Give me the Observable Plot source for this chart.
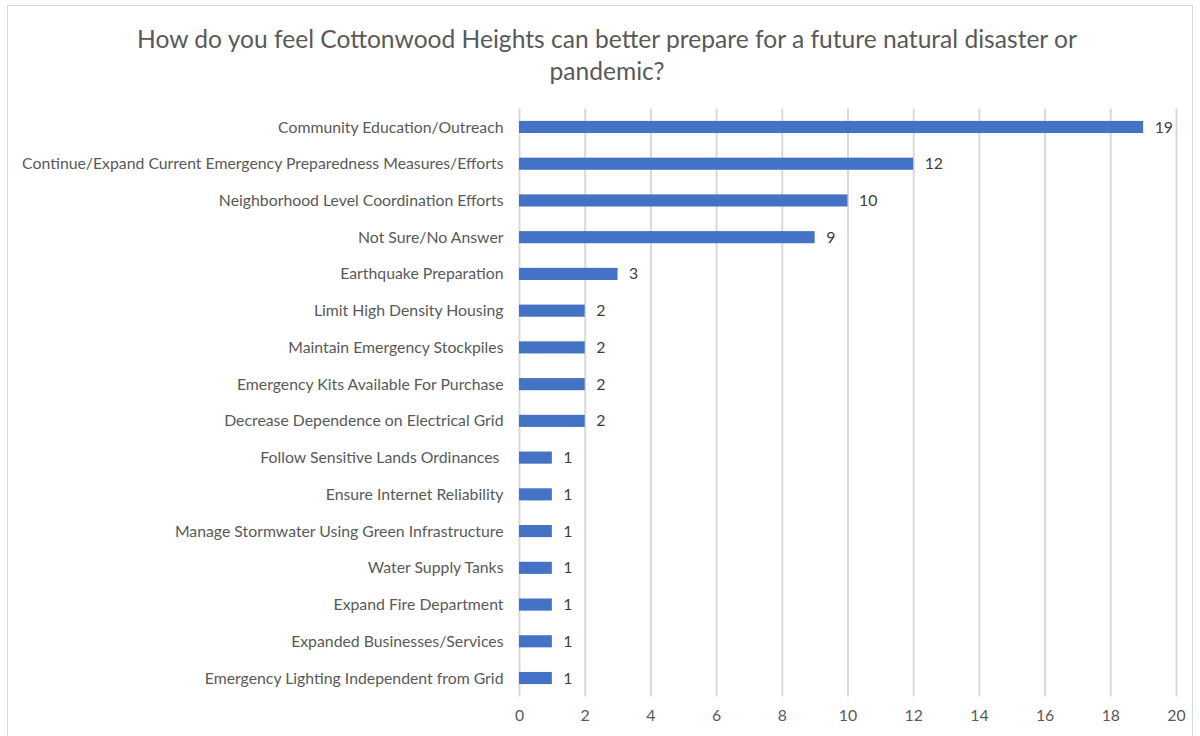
<!DOCTYPE html>
<html><head><meta charset="utf-8">
<script src="https://cdn.jsdelivr.net/npm/d3@7"></script>
<script src="https://cdn.jsdelivr.net/npm/@observablehq/plot@0.6"></script>
<style>
body{margin:0;background:#fff;font-family:Lato,"Open Sans",sans-serif;}
#wrap{position:relative;width:1200px;height:736px;overflow:hidden;}
#border{position:absolute;left:7px;top:5px;width:1186px;height:740px;border:1px solid #d9d9d9;box-sizing:border-box;}
#title{position:absolute;left:0;top:23px;width:1214px;text-align:center;font-size:24.6px;line-height:32px;color:#595959;}
#chart{position:absolute;left:0;top:0;}
</style></head>
<body><div id="wrap"><div id="border"></div>
<div id="title">How do you feel Cottonwood Heights can better prepare for a future natural disaster or<br>pandemic?</div>
<div id="chart"></div></div>
<script>
const categories = [
  "Community Education/Outreach",
  "Continue/Expand Current Emergency Preparedness Measures/Efforts",
  "Neighborhood Level Coordination Efforts",
  "Not Sure/No Answer",
  "Earthquake Preparation",
  "Limit High Density Housing",
  "Maintain Emergency Stockpiles",
  "Emergency Kits Available For Purchase",
  "Decrease Dependence on Electrical Grid",
  "Follow Sensitive Lands Ordinances ",
  "Ensure Internet Reliability",
  "Manage Stormwater Using Green Infrastructure",
  "Water Supply Tanks",
  "Expand Fire Department",
  "Expanded Businesses/Services",
  "Emergency Lighting Independent from Grid"
];
const values = [19, 12, 10, 9, 3, 2, 2, 2, 2, 1, 1, 1, 1, 1, 1, 1];
const xTicks = [0, 2, 4, 6, 8, 10, 12, 14, 16, 18, 20];

const data = categories.map((c, i) => ({category: c, value: values[i]}));

const chart = Plot.plot({
  width: 1200,
  height: 736,
  marginLeft: 519,
  marginRight: 24,
  marginTop: 108.6,
  marginBottom: 39.6,
  style: {fontFamily: "Lato, 'Open Sans', sans-serif", fontSize: "15.8px", color: "#595959", background: "transparent"},
  x: {domain: [0, 20], ticks: xTicks, tickSize: 0, tickPadding: 13, label: null},
  y: {domain: categories, paddingInner: 0.67, paddingOuter: 0.335, round: false, tickSize: 0, tickPadding: 16, label: null},
  marks: [
    Plot.ruleX(xTicks, {stroke: "#d9d9d9", strokeWidth: 2}),
    Plot.barX(data, {x: "value", y: "category", fill: "#4472C4"}),
    Plot.text(data, {x: "value", y: "category", text: d => String(d.value), textAnchor: "start", dx: 11, fill: "#404040", fontSize: 15.8})
  ]
});
document.getElementById("chart").appendChild(chart);
</script></body></html>
